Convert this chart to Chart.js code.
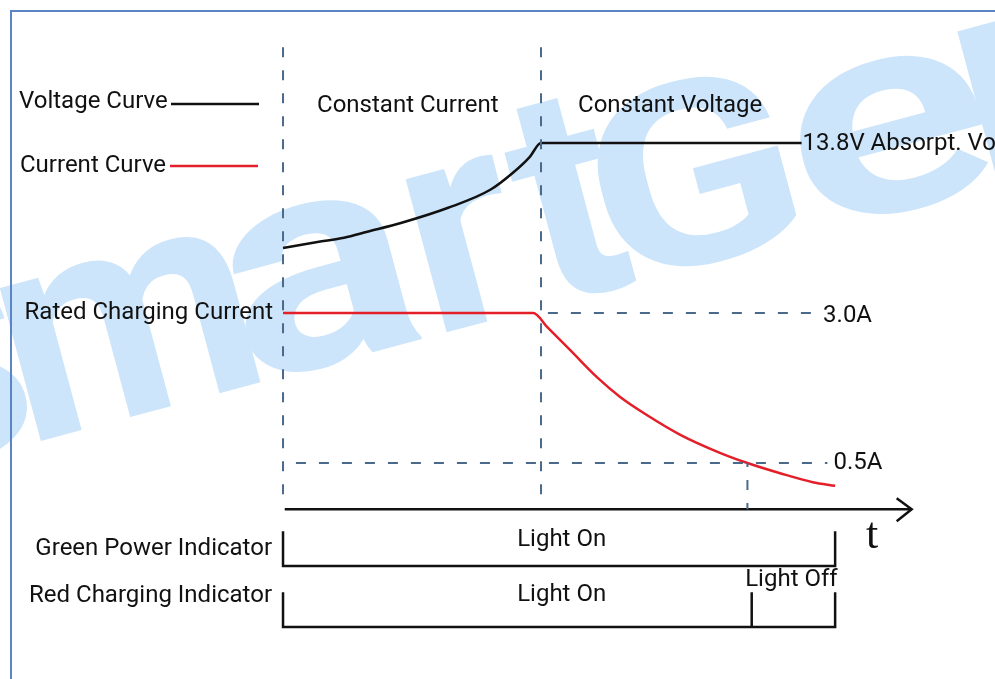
<!DOCTYPE html>
<html>
<head>
<meta charset="utf-8">
<script src="https://cdn.jsdelivr.net/npm/chart.js@4.4.1/dist/chart.umd.min.js"></script>
<style>
  html, body { margin: 0; padding: 0; background: #fff; }
  canvas { display: block; }
</style>
</head>
<body>
<canvas id="chargeChart" width="995" height="679"></canvas>
<script>
// charging profile, time in arbitrary units (CC -> CV switch at 3.0)
const voltTime   = [0, 0.40, 0.71, 0.98, 1.38, 1.92, 2.41, 2.67, 2.87, 3.0, 6.03];
const voltValues = [12.05, 12.15, 12.22, 12.32, 12.47, 12.72, 13.02, 13.30, 13.57, 13.8, 13.8];
const currTime   = [0, 2.91, 3.07, 3.34, 3.65, 3.92, 4.23, 4.62, 5.08, 5.40, 5.78, 6.16, 6.42];
const currValues = [3.0, 3.0, 2.77, 2.38, 1.93, 1.60, 1.30, 0.97, 0.67, 0.50, 0.33, 0.18, 0.12];

const ratedCurrent = 3.0;
const cutoffCurrent = 0.5;
const absorbVoltage = 13.8;
const phaseStart = [0, 3.0];
const phaseLabels = ['Constant Current', 'Constant Voltage'];
const cutoffTime = 5.40;
const endTime = 6.42;
const axisEnd = 7.31;

const indicatorNames = ['Green Power Indicator', 'Red Charging Indicator'];
const indicatorSwitch = [[0, 6.42], [0, 5.45, 6.42]];
const indicatorStates = [['Light On'], ['Light On', 'Light Off']];

// layout helpers (kept apart from the data)
const AXIS_A = -0.27;      // time axis sits a bit under 0 A
const GUIDE_TOP_A = 7.43;
const TICK_H = 0.57;       // indicator tick height in row units
const FONT = '24px Roboto, "Noto Sans", sans-serif';
const DASH = [10, 13];
const GUIDE = '#4b6a8b';
const RED = '#e3202a';
const INK = '#111';

// watermark letters, offsets along the slanted baseline, stretch per glyph
const wmLetters  = ['S', 'm', 'a', 'r', 't', 'G', 'e', 'n'];
const wmOffsets  = [-135, 26, 256, 446, 563, 634, 838, 1018];
const wmStretchX = [1.0, 1.0, 1.2, 1.0, 1.0, 1.045, 1.27, 1.0];
const wmStretchY = [0.85, 1, 1, 1, 1, 0.85, 0.94, 1];

const pts = (xs, ys) => xs.map((x, i) => ({ x: x, y: ys[i] }));

function line(data, axis, color, extra) {
    return Object.assign({
        data: data, yAxisID: axis, borderColor: color, borderWidth: 2.5,
        pointRadius: 0, fill: false, tension: 0, showLine: true, clip: false
    }, extra || {});
}

const datasets = [];
// dashed guides
phaseStart.forEach(t => datasets.push(line([{ x: t, y: GUIDE_TOP_A }, { x: t, y: AXIS_A + 0.1 }], 'yA', GUIDE, { borderWidth: 2, borderDash: DASH })));
datasets.push(line([{ x: 3.08, y: ratedCurrent }, { x: 6.21, y: ratedCurrent }], 'yA', GUIDE, { borderWidth: 2, borderDash: DASH }));
datasets.push(line([{ x: 0.15, y: cutoffCurrent }, { x: 6.33, y: cutoffCurrent }], 'yA', GUIDE, { borderWidth: 2, borderDash: DASH }));
datasets.push(line([{ x: cutoffTime, y: cutoffCurrent }, { x: cutoffTime, y: AXIS_A }], 'yA', GUIDE, { borderWidth: 2, borderDash: DASH, borderDashOffset: 6 }));
// curves
datasets.push(line(pts(voltTime, voltValues), 'yV', INK, { cubicInterpolationMode: 'monotone' }));
datasets.push(line(pts(currTime, currValues), 'yA', RED, { cubicInterpolationMode: 'monotone' }));
// time axis
datasets.push(line([{ x: 0.02, y: AXIS_A }, { x: axisEnd, y: AXIS_A }], 'yA', INK));
// indicator rows
indicatorSwitch.forEach((sw, r) => {
    const base = r + 1, first = sw[0], last = sw[sw.length - 1];
    datasets.push(line([{ x: first, y: base - TICK_H }, { x: first, y: base }, { x: last, y: base }, { x: last, y: base - TICK_H }], 'yR', INK));
    sw.slice(1, -1).forEach(t => datasets.push(line([{ x: t, y: base - TICK_H }, { x: t, y: base }], 'yR', INK)));
});

const diagramDecor = {
    id: 'diagramDecor',
    beforeDatasetsDraw(chart) {
        const ctx = chart.ctx;
        ctx.save();
        // watermark
        ctx.translate(0, 452);
        ctx.rotate(-15 * Math.PI / 180);
        ctx.fillStyle = '#cce5fb';
        ctx.font = 'bold 300px Roboto, sans-serif';
        ctx.textBaseline = 'alphabetic';
        wmLetters.forEach((ch, i) => {
            ctx.save();
            ctx.translate(wmOffsets[i], 0);
            ctx.scale(wmStretchX[i], wmStretchY[i]);
            ctx.fillText(ch, 0, 0);
            ctx.restore();
        });
        ctx.restore();
        // frame
        ctx.save();
        ctx.strokeStyle = '#5b84c6';
        ctx.lineWidth = 2;
        ctx.beginPath();
        ctx.moveTo(11, 679); ctx.lineTo(11, 11); ctx.lineTo(995, 11);
        ctx.stroke();
        ctx.restore();
    },
    afterDatasetsDraw(chart) {
        const ctx = chart.ctx, s = chart.scales;
        const X = v => s.x.getPixelForValue(v);
        const A = v => s.yA.getPixelForValue(v);
        const V = v => s.yV.getPixelForValue(v);
        const R = v => s.yR.getPixelForValue(v);
        const txt = (str, x, y, align) => {
            ctx.textAlign = align || 'left';
            ctx.fillText(str, x, y);
        };
        ctx.save();
        ctx.font = FONT;
        ctx.fillStyle = INK;
        ctx.textBaseline = 'middle';

        // legend
        txt('Voltage Curve', 19, 102);
        txt('Current Curve', 20, 166);
        ctx.lineWidth = 2.5;
        ctx.strokeStyle = INK;
        ctx.beginPath(); ctx.moveTo(171, 104); ctx.lineTo(259, 104); ctx.stroke();
        ctx.strokeStyle = RED;
        ctx.beginPath(); ctx.moveTo(170, 166); ctx.lineTo(258, 166); ctx.stroke();

        // phases
        txt(phaseLabels[0], X(phaseStart[0]) + 34, 106);
        txt(phaseLabels[1], X(phaseStart[1]) + 37, 106);

        // levels
        txt(absorbVoltage.toFixed(1) + 'V Absorpt. Voltage', X(voltTime[voltTime.length - 1]) + 1, V(absorbVoltage) + 1);
        txt(ratedCurrent.toFixed(1) + 'A', X(6.21) + 6, A(ratedCurrent) + 3);
        txt(cutoffCurrent.toFixed(1) + 'A', X(6.33) + 6, A(cutoffCurrent));
        txt('Rated Charging Current', X(0) - 10, A(ratedCurrent), 'right');

        // arrow head + t
        const tipX = X(axisEnd), tipY = A(AXIS_A);
        ctx.strokeStyle = INK;
        ctx.lineWidth = 2.5;
        ctx.beginPath();
        ctx.moveTo(tipX - 15, tipY - 11); ctx.lineTo(tipX, tipY); ctx.lineTo(tipX - 15, tipY + 12);
        ctx.stroke();
        ctx.font = '44px "Liberation Serif", serif';
        ctx.textBaseline = 'alphabetic';
        txt('t', 872, 548, 'center');

        // indicator labels
        ctx.font = FONT;
        ctx.textBaseline = 'middle';
        indicatorNames.forEach((n, r) => {
            txt(n, X(0) - 11, r === 0 ? 549 : 596, 'right');
        });
        const onX = X(3.24);
        txt(indicatorStates[0][0], onX, R(1) - 26, 'center');
        txt(indicatorStates[1][0], onX, R(2) - 32, 'center');
        const sw = indicatorSwitch[1];
        txt(indicatorStates[1][1], (X(sw[1]) + X(sw[2])) / 2 - 2, R(2) - 47, 'center');
        ctx.restore();
    }
};

new Chart(document.getElementById('chargeChart'), {
    type: 'scatter',
    data: { datasets: datasets },
    options: {
        responsive: false,
        animation: false,
        events: [],
        layout: { padding: 0 },
        plugins: { legend: { display: false }, tooltip: { enabled: false } },
        scales: {
            x:  { type: 'linear', display: false, min: -3.291, max: 8.279 },
            yA: { type: 'linear', display: false, min: -3.1, max: 8.2167 },
            yV: { type: 'linear', display: false, min: 4.867, max: 16.183 },
            yR: { type: 'linear', display: false, reverse: true, min: -8.279, max: 2.852 }
        }
    },
    plugins: [diagramDecor]
});
</script>
</body>
</html>
